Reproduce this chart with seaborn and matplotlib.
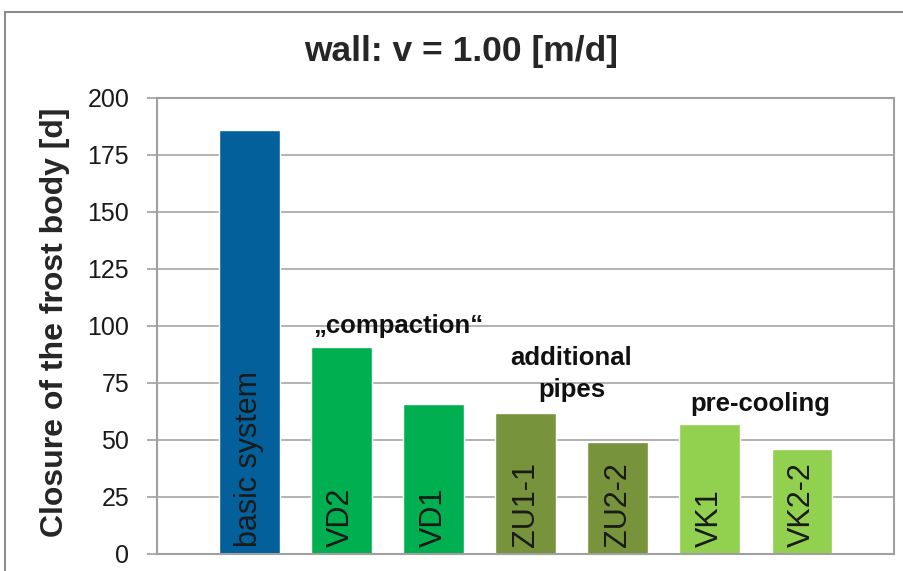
import seaborn as sns
import matplotlib.pyplot as plt
from matplotlib.patches import Rectangle

# Datos
categorias = ['basic system', 'VD2', 'VD1', 'ZU1-1', 'ZU2-2', 'VK1', 'VK2-2']
dias = [186, 91, 66, 62, 49, 57, 46]
colores = ['#03609A', '#00B050', '#00B050', '#77933C', '#77933C', '#92D050', '#92D050']

# Grupos de medidas (texto, posicion x entre barras, y)
grupos = ['\u201ecompaction\u201c', 'additional\npipes', 'pre-cooling']
grupos_x = [1.62, 3.5, 5.55]
grupos_y = [100, 79, 66]

titulo = 'wall: v = 1.00 [m/d]'
ylabel = 'Closure of the frost body [d]'
yticks = [0, 25, 50, 75, 100, 125, 150, 175, 200]

sns.set_style('white')
plt.rcParams['font.family'] = ['Liberation Sans', 'DejaVu Sans']

fig = plt.figure(figsize=(9.04, 5.71), dpi=100)
ax = fig.add_axes([0.1737, 0.0298, 0.8153, 0.7986])

sns.barplot(x=categorias, y=dias, hue=categorias, palette=colores,
            width=0.66, legend=False, saturation=1, ax=ax)

ax.set_xlim(-1, 7)
ax.set_ylim(0, 200)
ax.set_yticks(yticks)
ax.set_xticks([])
ax.yaxis.grid(True, color='#A6A6A6', lw=1.2)
ax.set_axisbelow(True)
for s in ax.spines.values():
    s.set_color('#A0A0A0')
    s.set_linewidth(1.5)
ax.tick_params(axis='y', left=True, length=7, width=1.2, color='#A0A0A0',
               pad=13, labelsize=18, labelcolor='#1a1a1a')

# Etiquetas dentro de las barras
for i, cat in enumerate(categorias):
    ax.text(i, 3, cat, rotation=90, ha='center', va='bottom',
            fontsize=22, color='#1a1a1a')

for txt, gx, gy in zip(grupos, grupos_x, grupos_y):
    ax.text(gx, gy, txt, ha='center', va='center', fontsize=18.5,
            fontweight='bold', color='#111111', linespacing=1.45)

fig.text(461 / 904, 1 - 51 / 571, titulo, ha='center', va='center',
         fontsize=25.5, fontweight='bold')
fig.text(55 / 904, 1 - 322 / 571, ylabel, ha='center', va='center',
         rotation=90, fontsize=23, fontweight='bold')

# Marco exterior
fig.patches.append(Rectangle((5 / 904, -0.1), 1.2, 1.1 - 12 / 571,
                             transform=fig.transFigure, fill=False,
                             edgecolor='#8C8C8C', lw=1.5))

fig.savefig('out.png', dpi=100)
